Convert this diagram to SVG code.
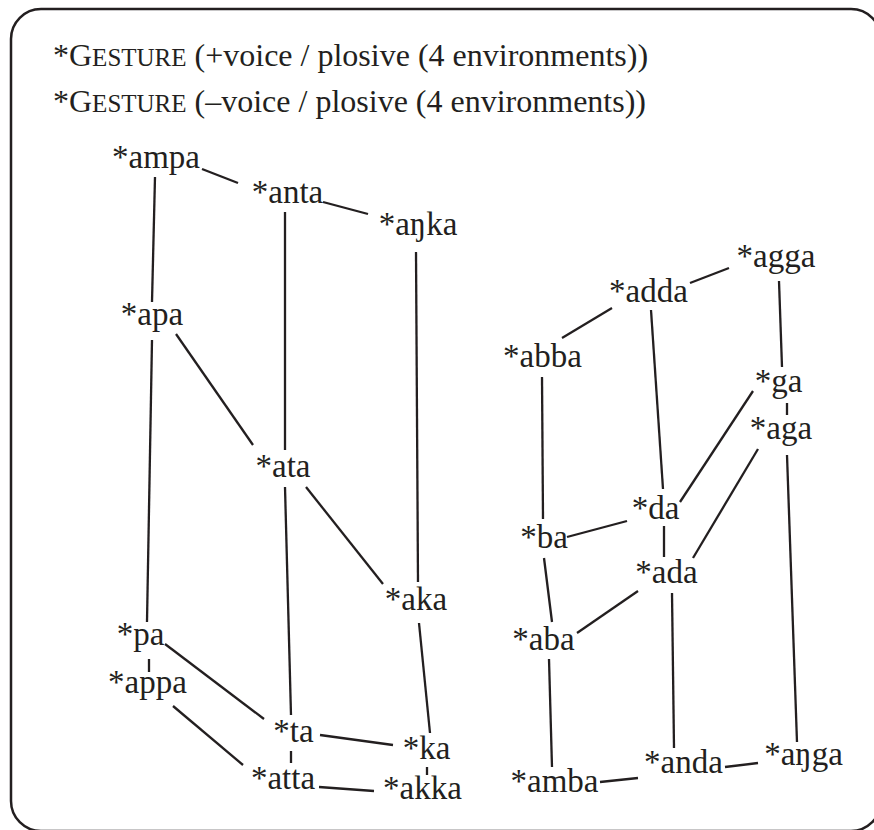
<svg xmlns="http://www.w3.org/2000/svg" width="874" height="830" viewBox="0 0 874 830">
<style>
.t{font-family:"Liberation Serif","Times New Roman",serif;font-size:32px;fill:#231f20}
.n{font-family:"Liberation Serif","Times New Roman",serif;font-size:33px;fill:#231f20;text-anchor:middle}
.sc{font-size:25px}
#edges line{stroke:#231f20;stroke-width:2.3;stroke-linecap:butt}
</style>
<path d="M41,9 H851 A30,30 0 0 1 881,39 V801 A30,30 0 0 1 851,831 H41 A30,30 0 0 1 11,801 V39 A30,30 0 0 1 41,9 Z" fill="#fff" stroke="#231f20" stroke-width="2.5"/>
<g id="title">
<text class="t" x="53" y="66">*G<tspan class="sc">ESTURE</tspan> (+voice / plosive (4 environments))</text>
<text class="t" x="53" y="112">*G<tspan class="sc">ESTURE</tspan> (–voice / plosive (4 environments))</text>
</g>
<g id="edges">
<line x1="202" y1="169" x2="238" y2="183"/>
<line x1="323" y1="202" x2="368" y2="214"/>
<line x1="155" y1="177" x2="152" y2="302"/>
<line x1="285" y1="212" x2="285" y2="450"/>
<line x1="416" y1="252" x2="418" y2="582"/>
<line x1="152" y1="340" x2="147" y2="622"/>
<line x1="176" y1="334" x2="253" y2="445"/>
<line x1="285" y1="487" x2="291" y2="715"/>
<line x1="306" y1="487" x2="383" y2="584"/>
<line x1="419" y1="623" x2="430" y2="733"/>
<line x1="149" y1="659" x2="149" y2="672"/>
<line x1="165" y1="644" x2="264" y2="719"/>
<line x1="173" y1="706" x2="243" y2="765"/>
<line x1="291" y1="751" x2="291" y2="763"/>
<line x1="320" y1="735" x2="393" y2="745"/>
<line x1="427" y1="767" x2="427" y2="775"/>
<line x1="319" y1="787" x2="374" y2="791"/>
<line x1="690" y1="283" x2="729" y2="268"/>
<line x1="562" y1="338" x2="612" y2="308"/>
<line x1="779" y1="281" x2="782" y2="367"/>
<line x1="787" y1="403" x2="787" y2="415"/>
<line x1="651" y1="310" x2="663" y2="489"/>
<line x1="542" y1="377" x2="543" y2="519"/>
<line x1="753" y1="391" x2="680" y2="502"/>
<line x1="758" y1="449" x2="693" y2="558"/>
<line x1="787" y1="455" x2="797" y2="742"/>
<line x1="567" y1="537" x2="627" y2="521"/>
<line x1="664" y1="526" x2="664" y2="557"/>
<line x1="544" y1="558" x2="552" y2="622"/>
<line x1="638" y1="591" x2="577" y2="633"/>
<line x1="549" y1="659" x2="552" y2="767"/>
<line x1="672" y1="593" x2="674" y2="748"/>
<line x1="600" y1="782" x2="638" y2="778"/>
<line x1="725" y1="767" x2="758" y2="763"/>
</g>
<g id="ampa"><text class="n" x="156" y="168">*ampa</text></g>
<g id="anta"><text class="n" x="287.5" y="203">*anta</text></g>
<g id="anka"><text class="n" x="418" y="235">*aŋka</text></g>
<g id="apa"><text class="n" x="152" y="325">*apa</text></g>
<g id="ata"><text class="n" x="283" y="477">*ata</text></g>
<g id="aka"><text class="n" x="416" y="610">*aka</text></g>
<g id="pa"><text class="n" x="140.5" y="645">*pa</text></g>
<g id="appa"><text class="n" x="147.5" y="693">*appa</text></g>
<g id="ta"><text class="n" x="293.5" y="742">*ta</text></g>
<g id="atta"><text class="n" x="283" y="789">*atta</text></g>
<g id="ka"><text class="n" x="426.5" y="759">*ka</text></g>
<g id="akka"><text class="n" x="422.5" y="799">*akka</text></g>
<g id="agga"><text class="n" x="776" y="267">*agga</text></g>
<g id="adda"><text class="n" x="648.5" y="302">*adda</text></g>
<g id="abba"><text class="n" x="542.5" y="367">*abba</text></g>
<g id="ga"><text class="n" x="778.5" y="392">*ga</text></g>
<g id="aga"><text class="n" x="781" y="439">*aga</text></g>
<g id="da"><text class="n" x="655.5" y="519">*da</text></g>
<g id="ba"><text class="n" x="544" y="548">*ba</text></g>
<g id="ada"><text class="n" x="666.5" y="583">*ada</text></g>
<g id="aba"><text class="n" x="543.5" y="650">*aba</text></g>
<g id="anda"><text class="n" x="683.5" y="773">*anda</text></g>
<g id="amba"><text class="n" x="554.5" y="792">*amba</text></g>
<g id="anga"><text class="n" x="803.5" y="765">*aŋga</text></g>
</svg>
